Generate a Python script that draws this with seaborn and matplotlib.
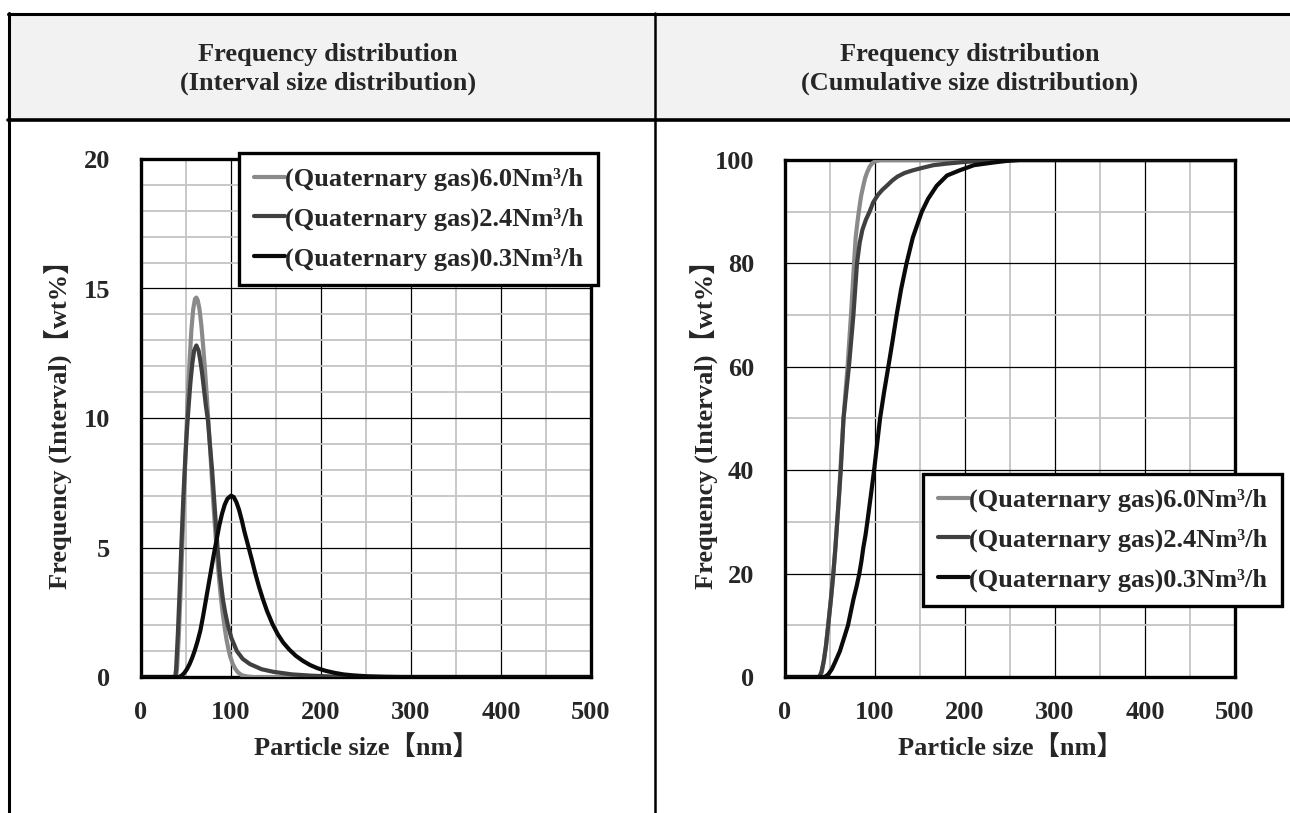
import matplotlib
matplotlib.use("Agg")
import matplotlib.pyplot as plt
from matplotlib.lines import Line2D
from matplotlib.patches import Rectangle
from matplotlib.ticker import MultipleLocator
import seaborn as sns
import pandas as pd

# ---------------- data ----------------
series_labels = ["(Quaternary gas)6.0Nm³/h",
                 "(Quaternary gas)2.4Nm³/h",
                 "(Quaternary gas)0.3Nm³/h"]
series_colors = ["#8a8a8a", "#404040", "#0a0a0a"]

header_left = "Frequency distribution\n(Interval size distribution)"
header_right = "Frequency distribution\n(Cumulative size distribution)"
x_label = "Particle size【nm】"
y_label = "Frequency (Interval)【wt%】"

# Interval distribution
int_size_60 = [0, 38, 39, 40, 42, 44, 46, 48, 50, 52, 54, 56, 58, 60, 61.5, 63, 65, 67, 69, 71, 73,
               75, 77, 79, 81, 83, 85, 87, 89, 91, 93, 95, 97, 99, 102, 105, 108, 112, 118, 125, 500]
int_freq_60 = [0, 0, 0.05, 0.3, 1.6, 3.3, 5.2, 7.2, 9.1, 10.8, 12.2, 13.4, 14.2, 14.6, 14.65, 14.55, 14.2,
               13.6, 12.8, 11.9, 10.9, 9.8, 8.7, 7.5, 6.4, 5.4, 4.5, 3.7, 3.0, 2.4, 1.9, 1.45, 1.1, 0.8,
               0.5, 0.3, 0.17, 0.07, 0.02, 0, 0]

int_size_24 = [0, 38, 39, 41, 43, 45, 47, 49, 51, 53, 55, 57, 59, 61.5, 64, 66, 68, 70, 72, 74.4,
               76.5, 79, 81, 83, 85, 87.5, 91, 93.5, 96.5, 100.5, 106.5, 113, 121, 134, 147, 168,
               190, 210, 230, 500]
int_freq_24 = [0, 0, 0.3, 1.7, 3.4, 5.2, 6.9, 8.3, 9.5, 10.5, 11.4, 12.1, 12.6, 12.8, 12.6, 12.2,
               11.7, 11.1, 10.5, 9.9, 9.0, 8.0, 7.0, 6.0, 5.0, 4.0, 3.0, 2.5, 2.0, 1.5, 1.0, 0.7,
               0.5, 0.3, 0.2, 0.1, 0.05, 0.02, 0, 0]

int_size_03 = [0, 42, 45, 48, 51, 54, 57, 60, 63, 66, 69, 72, 75, 78, 81, 84, 87, 90, 93, 96, 100,
               103, 106, 109, 112, 115, 119.6, 123, 127, 131, 135, 140, 146, 152, 158, 165, 172,
               180, 188, 196, 205, 215, 225, 235, 250, 270, 290, 500]
int_freq_03 = [0, 0, 0.05, 0.15, 0.3, 0.5, 0.75, 1.05, 1.4, 1.8, 2.35, 2.95, 3.55, 4.15, 4.75, 5.3,
               5.85, 6.3, 6.65, 6.88, 7.0, 6.95, 6.75, 6.45, 6.05, 5.6, 5.0, 4.55, 4.0, 3.5, 3.05,
               2.55, 2.05, 1.65, 1.33, 1.05, 0.82, 0.62, 0.46, 0.34, 0.24, 0.16, 0.1, 0.065, 0.03,
               0.01, 0, 0]

# Cumulative distribution
cum_size_60 = [0, 39, 41, 43, 45.5, 48, 51, 53.7, 56, 58, 60, 61.5, 63.3, 65, 67.2, 69.5, 71.4, 73.3,
               75, 76.7, 78.5, 80.5, 82, 84.5, 87, 89, 91, 94, 97, 101, 106, 500]
cum_val_60 = [0, 0, 1, 3, 6, 10, 15, 20, 25, 30, 35, 40, 45, 50, 55, 60, 65, 70,
              75, 80, 85, 88, 90, 93, 95, 96.5, 97.5, 98.7, 99.4, 99.8, 100, 100]

cum_size_24 = [0, 38, 40.5, 43, 45.5, 48, 51, 53.7, 56, 58, 60, 62, 63.5, 65, 68, 71, 73.5, 76, 78,
               80, 83, 86, 90, 94, 98, 103, 108, 113, 119, 125, 133, 142, 153, 165, 180, 198,
               215, 235, 500]
cum_val_24 = [0, 0, 1, 3, 6, 10, 15, 20, 25, 30, 35, 40, 45, 50, 55, 60, 65, 70, 75,
              80, 84, 86.5, 88.5, 90, 91.8, 93.2, 94.2, 95, 96, 96.8, 97.5, 98, 98.5, 99, 99.3, 99.6,
              99.8, 100, 100]

cum_size_03 = [0, 44, 48, 52, 56, 61, 65.5, 70, 73, 76, 79.5, 82.6, 85, 87, 89.5, 91.5, 95.3, 99,
               102.3, 105.6, 110, 114.8, 119.5, 124, 129, 135, 142, 147, 152, 159, 168.5, 180, 194,
               210, 231, 245, 261, 500]
cum_val_03 = [0, 0, 0.5, 1.5, 3, 5, 7.5, 10, 12.5, 15, 17.5, 20, 22.5, 25, 27.5, 30, 35, 40,
              45, 50, 55, 60, 65, 70, 75, 80, 85, 87.5, 90, 92.5, 95, 97, 98,
              99, 99.5, 99.8, 100, 100]

x_ticks = [0, 100, 200, 300, 400, 500]
y_ticks_int = [0, 5, 10, 15, 20]
y_ticks_cum = [0, 20, 40, 60, 80, 100]

# ---------------- style ----------------
sns.set_style("white")
plt.rcParams["font.family"] = ["Liberation Serif", "Noto Sans CJK JP"]
plt.rcParams["font.weight"] = "bold"
plt.rcParams["axes.labelweight"] = "bold"

W, H = 1290, 813
fig = plt.figure(figsize=(W / 100, H / 100), dpi=100)
fig.patch.set_facecolor("white")


def fx(x):
    return x / W


def fy(y):
    return 1 - y / H


# ---------------- table frame ----------------
fig.add_artist(Rectangle((fx(9), fy(120)), fx(W) - fx(9), fy(15) - fy(120),
                         transform=fig.transFigure, facecolor="#f2f2f2", edgecolor="none", zorder=0))
fig.add_artist(Line2D([fx(8), fx(W)], [fy(14.5), fy(14.5)], transform=fig.transFigure,
                      color="black", lw=2.2))
fig.add_artist(Line2D([fx(8), fx(W)], [fy(120), fy(120)], transform=fig.transFigure,
                      color="black", lw=2.6))
fig.add_artist(Line2D([fx(9), fx(9)], [fy(13.5), fy(H)], transform=fig.transFigure,
                      color="black", lw=2.2))
fig.add_artist(Line2D([fx(655), fx(655)], [fy(13.5), fy(H)], transform=fig.transFigure,
                      color="black", lw=1.8))

fig.text(fx(328), fy(69), header_left, ha="center", va="center", fontsize=19,
         fontweight="bold", linespacing=1.32)
fig.text(fx(970), fy(69), header_right, ha="center", va="center", fontsize=19,
         fontweight="bold", linespacing=1.32)

# ---------------- axes ----------------
ax1 = fig.add_axes([fx(141), fy(677), 450 / W, 518 / H])
ax2 = fig.add_axes([fx(785), fy(677), 450 / W, 517 / H])


def style_axes(ax, yticks, ymax, yminor, ylab_x):
    ax.set_xlim(0, 500)
    ax.set_ylim(0, ymax)
    ax.set_xticks(x_ticks)
    ax.set_yticks(yticks)
    ax.xaxis.set_minor_locator(MultipleLocator(50))
    ax.yaxis.set_minor_locator(MultipleLocator(yminor))
    ax.grid(which="minor", color="#c4c4c4", lw=1.3, zorder=0)
    ax.grid(which="major", color="black", lw=0.9, zorder=0.5)
    ax.set_axisbelow(True)
    for s in ax.spines.values():
        s.set_visible(True)
        s.set_color("black")
        s.set_linewidth(2.4)
        s.set_zorder(2.5)
    ax.tick_params(which="both", length=0, labelsize=19)
    ax.tick_params(axis="y", pad=22)
    ax.tick_params(axis="x", pad=17)
    for lab in ax.get_xticklabels() + ax.get_yticklabels():
        lab.set_fontweight("bold")
    ax.set_xlabel(x_label, fontsize=19, fontweight="bold", labelpad=8)
    ax.set_ylabel(y_label, fontsize=19, fontweight="bold")
    ax.yaxis.set_label_coords(ylab_x, 0.5)


int_sets = [(int_size_60, int_freq_60), (int_size_24, int_freq_24), (int_size_03, int_freq_03)]
cum_sets = [(cum_size_60, cum_val_60), (cum_size_24, cum_val_24), (cum_size_03, cum_val_03)]

for (xs, ys), lab, col in zip(int_sets, series_labels, series_colors):
    df = pd.DataFrame({"size": xs, "val": ys})
    sns.lineplot(data=df, x="size", y="val", ax=ax1, color=col, lw=3.0, label=lab,
                 estimator=None, sort=False, zorder=3)
for (xs, ys), lab, col in zip(cum_sets, series_labels, series_colors):
    df = pd.DataFrame({"size": xs, "val": ys})
    sns.lineplot(data=df, x="size", y="val", ax=ax2, color=col, lw=3.0, label=lab,
                 estimator=None, sort=False, zorder=3)

style_axes(ax1, y_ticks_int, 20, 1, (73 - 141) / 450)
style_axes(ax2, y_ticks_cum, 100, 10, (719 - 785) / 450)


def make_legend(ax, anchor):
    h, l = ax.get_legend_handles_labels()
    leg = ax.legend(h, l, loc="upper right", bbox_to_anchor=anchor,
                    bbox_transform=fig.transFigure, borderaxespad=0,
                    fontsize=19, frameon=True, fancybox=False, framealpha=1,
                    edgecolor="black", handlelength=1.2, handletextpad=0.0,
                    labelspacing=0.6, borderpad=0.55)
    leg.get_frame().set_linewidth(2.4)
    leg.set_zorder(5)
    for t in leg.get_texts():
        t.set_fontweight("bold")
    for line in leg.get_lines():
        line.set_linewidth(3.0)
    return leg


make_legend(ax1, (fx(598), fy(153)))
make_legend(ax2, (fx(1282), fy(474)))

fig.savefig("out.png", dpi=100)
